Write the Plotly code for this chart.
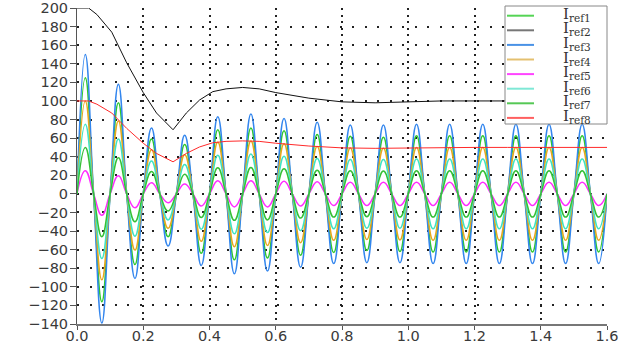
import numpy as np
import plotly.graph_objects as go

# ---------------- data ----------------
# sampling instants of the oscillating references: zero crossings and extremes (10 Hz)
t_osc = [round(0.025 * k, 3) for k in range(65)]

iref3 = [0, 150, 0, -139, 0, 118, 0, -91, 0, 71, 0, -56, 0, 63, 0, -77, 0, 83, 0, -86,
         0, 86, 0, -83, 0, 81, 0, -79, 0, 77, 0, -75, 0, 74, 0, -74, 0, 74, 0, -74,
         0, 75, 0, -75, 0, 75, 0, -75, 0, 75, 0, -75, 0, 75, 0, -75, 0, 75, 0, -75,
         0, 75, 0, -75, 0]
iref1 = [0, 125, 0, -116, 0, 98, 0, -76, 0, 59, 0, -46, 0, 53, 0, -64, 0, 69, 0, -71,
         0, 71, 0, -69, 0, 68, 0, -66, 0, 64, 0, -63, 0, 62, 0, -61, 0, 61, 0, -62,
         0, 62.5, 0, -62.5, 0, 62.5, 0, -62.5, 0, 62.5, 0, -62.5, 0, 62.5, 0, -62.5, 0, 62.5, 0, -62.5,
         0, 62.5, 0, -62.5, 0]
iref4 = [0, 100, 0, -92.5, 0, 78.5, 0, -60.5, 0, 47.5, 0, -37, 0, 42, 0, -51, 0, 55.5, 0, -57,
         0, 57, 0, -55.5, 0, 54, 0, -52.5, 0, 51, 0, -50, 0, 49.5, 0, -49, 0, 49, 0, -49.5,
         0, 50, 0, -50, 0, 50, 0, -50, 0, 50, 0, -50, 0, 50, 0, -50, 0, 50, 0, -50,
         0, 50, 0, -50, 0]
iref6 = [0, 75, 0, -69.5, 0, 59, 0, -45.5, 0, 35.5, 0, -28, 0, 31.5, 0, -38, 0, 41.5, 0, -43,
         0, 43, 0, -41.5, 0, 40.5, 0, -39.5, 0, 38, 0, -37.5, 0, 37, 0, -37, 0, 37, 0, -37,
         0, 37.5, 0, -37.5, 0, 37.5, 0, -37.5, 0, 37.5, 0, -37.5, 0, 37.5, 0, -37.5, 0, 37.5, 0, -37.5,
         0, 37.5, 0, -37.5, 0]
iref7 = [0, 50, 0, -46, 0, 39, 0, -30, 0, 24, 0, -18.5, 0, 21, 0, -25.5, 0, 28, 0, -28.5,
         0, 28.5, 0, -28, 0, 27, 0, -26, 0, 25.5, 0, -25, 0, 25, 0, -24.5, 0, 24.5, 0, -25,
         0, 25, 0, -25, 0, 25, 0, -25, 0, 25, 0, -25, 0, 25, 0, -25, 0, 25, 0, -25,
         0, 25, 0, -25, 0]
iref5 = [0, 25, 0, -23, 0, 19.5, 0, -15, 0, 12, 0, -9.5, 0, 10.5, 0, -13, 0, 14, 0, -14,
         0, 14, 0, -14, 0, 13.5, 0, -13, 0, 13, 0, -12.5, 0, 12.5, 0, -12.5, 0, 12.5, 0, -12.5,
         0, 12.5, 0, -12.5, 0, 12.5, 0, -12.5, 0, 12.5, 0, -12.5, 0, 12.5, 0, -12.5, 0, 12.5, 0, -12.5,
         0, 12.5, 0, -12.5, 0]

# slowly varying references
t_dc = [0, 0.035, 0.06, 0.085, 0.105, 0.15, 0.2, 0.24, 0.29, 0.31, 0.33, 0.37, 0.41, 0.45,
        0.5, 0.55, 0.6, 0.7, 0.8, 0.9, 1.0, 1.1, 1.2, 1.3, 1.4, 1.5, 1.6]
iref2 = [200, 200, 193, 182, 174, 141, 109, 87, 69, 78, 87, 101, 110, 113,
         114.5, 113, 109, 103, 99, 98, 99, 100, 100, 100, 100, 100, 100]
iref8 = [100, 100, 96.5, 91, 87, 70.5, 54.5, 43.5, 34.5, 39, 43.5, 50.5, 55, 56.5,
         57, 56.5, 54.5, 51.5, 49.5, 49, 49.5, 50, 50, 50, 50, 50, 50]

x_ticks = [0.0, 0.2, 0.4, 0.6, 0.8, 1.0, 1.2, 1.4, 1.6]
y_ticks = list(range(-140, 201, 20))
names = ["I<sub>ref1</sub>", "I<sub>ref2</sub>", "I<sub>ref3</sub>", "I<sub>ref4</sub>",
         "I<sub>ref5</sub>", "I<sub>ref6</sub>", "I<sub>ref7</sub>", "I<sub>ref8</sub>"]

# ---------------- styling ----------------
colors = ["#2ec82e", "#111111", "#3386ee", "#e8a61e", "#ff2cff", "#3fe3c3", "#36c036", "#ff2a2a"]
leg_colors = ["#55d455", "#777777", "#4a92e6", "#e4c070", "#ff44ff", "#7fe8d6", "#55c855", "#ff6060"]

series = [
    (t_osc, iref1, 1.5, "spline"),
    (t_dc, iref2, 1.0, "linear"),
    (t_osc, iref3, 1.5, "spline"),
    (t_osc, iref4, 1.5, "spline"),
    (t_osc, iref5, 1.5, "spline"),
    (t_osc, iref6, 1.5, "spline"),
    (t_osc, iref7, 1.5, "spline"),
    (t_dc, iref8, 1.0, "linear"),
]

fig = go.Figure()
for i, (xs, ys, w, shp) in enumerate(series):
    line = dict(color=colors[i], width=w, shape=shp)
    if shp == "spline":
        line["smoothing"] = 1.3
    fig.add_trace(go.Scatter(
        x=xs, y=ys, mode="lines", name=names[i], showlegend=False, hoverinfo="skip",
        line=line,
    ))

L, R, T, B = 77, 607, 8, 324
W, H = 643, 345
tickfont = dict(family="DejaVu Sans", size=14.5, color="#3a3a3a")

fig.update_layout(
    template="none",
    width=W, height=H,
    margin=dict(l=L, r=W - R, t=T, b=H - B, pad=0, autoexpand=False),
    paper_bgcolor="white", plot_bgcolor="white",
    showlegend=False,
    xaxis=dict(range=[0, 1.6], tickvals=x_ticks, tickformat=".1f", automargin=False,
               showgrid=True, gridcolor="#222222", gridwidth=2, griddash="2px,4.6px",
               zeroline=False, showline=True, linecolor="#777777", linewidth=1.5,
               ticks="outside", ticklen=4, tickcolor="#555555", tickfont=tickfont,
               ticklabeloverflow="allow", ticklabelstandoff=-6, mirror=False),
    yaxis=dict(range=[-140, 200], tickvals=y_ticks, automargin=False,
               showgrid=True, gridcolor="#222222", gridwidth=2, griddash="2px,10.5px",
               zeroline=False, showline=True, linecolor="#555555", linewidth=1,
               ticks="outside", ticklen=6, tickcolor="#555555", tickfont=tickfont,
               ticklabeloverflow="allow", ticklabelstandoff=-1, mirror=False),
    yaxis2=dict(range=[-140, 200], tickvals=y_ticks, overlaying="y", side="right",
                automargin=False, showgrid=False, zeroline=False, showline=True,
                linecolor="#888888", linewidth=1, ticks="inside", ticklen=3,
                tickcolor="#555555", showticklabels=False),
    xaxis2=dict(range=[0, 1.6], overlaying="x", side="top", automargin=False,
                showgrid=False, zeroline=False, showline=True, linecolor="#aaaaaa",
                linewidth=2, ticks="", showticklabels=False),
)

# ---------------- legend (drawn by hand to match compact spacing) ----------------
def px(xp):
    return (xp - L) / (R - L)

def py(yp):
    return (B - yp) / (B - T)

shapes = [dict(type="rect", xref="paper", yref="paper",
               x0=px(505), x1=px(607), y0=py(124), y1=py(6),
               line=dict(color="#888888", width=1), fillcolor="white", layer="above")]
annotations = []
for i in range(8):
    yl = 15.7 + 14.6 * i
    shapes.append(dict(type="line", xref="paper", yref="paper",
                       x0=px(507), x1=px(534), y0=py(yl), y1=py(yl),
                       line=dict(color=leg_colors[i], width=2), layer="above"))
    annotations.append(dict(xref="paper", yref="paper", x=px(562), y=py(yl + 9),
                            xanchor="left", yanchor="bottom", showarrow=False,
                            text=names[i], borderpad=0,
                            font=dict(family="DejaVu Serif", size=15, color="#333333")))
fig.update_layout(shapes=shapes, annotations=annotations)

fig.write_html("out.html", config={"displayModeBar": False, "staticPlot": True},
               post_script="document.body.style.margin='0';document.body.style.padding='0';")
